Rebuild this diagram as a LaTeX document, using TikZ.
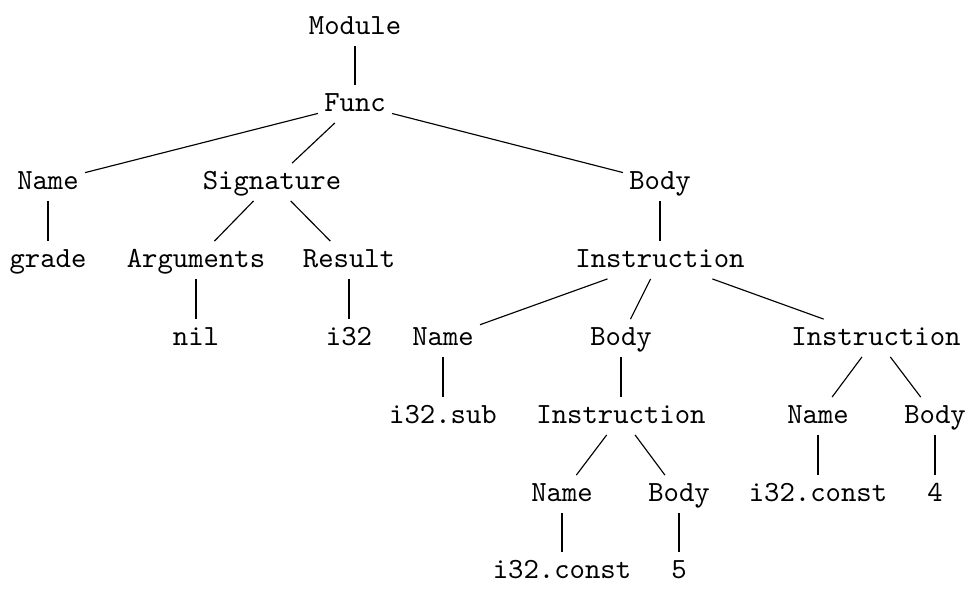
\documentclass[tikz,border=0pt]{standalone}
\begin{document}
\begin{tikzpicture}[x=0.35pt,y=-0.35pt,
  t/.style={font=\ttfamily\fontsize{10.25}{12}\selectfont, inner sep=2pt, text height=1.6ex, text depth=.45ex},
  e/.style={draw=black, line width=0.4pt}]
\useasboundingbox (0,0) rectangle (966,595);
\node[t] (mod) at (355,27) {Module};
\node[t] (func) at (355,104) {Func};
\node[t] (name1) at (48,182) {Name};
\node[t] (sig) at (272,182) {Signature};
\node[t] (body1) at (660,182) {Body};
\node[t] (grade) at (48,260) {grade};
\node[t] (args) at (196,260) {Arguments};
\node[t] (res) at (349,260) {Result};
\node[t] (ins1) at (660,260) {Instruction};
\node[t] (nil) at (196,338) {nil};
\node[t] (i32) at (349,338) {i32};
\node[t] (name2) at (443,338) {Name};
\node[t] (body2) at (621,338) {Body};
\node[t] (ins3) at (876,338) {Instruction};
\node[t] (sub) at (443,416) {i32.sub};
\node[t] (ins2) at (621,416) {Instruction};
\node[t] (name4) at (818,416) {Name};
\node[t] (body4) at (935,416) {Body};
\node[t] (name3) at (562,494) {Name};
\node[t] (body3) at (679,494) {Body};
\node[t] (c4) at (818,494) {i32.const};
\node[t] (four) at (935,494) {4};
\node[t] (c5) at (562,571) {i32.const};
\node[t] (five) at (679,571) {5};
\path[e] (mod) -- (func);
\path[e] (func) -- (name1);
\path[e] (func) -- (sig);
\path[e] (func) -- (body1);
\path[e] (name1) -- (grade);
\path[e] (sig) -- (args);
\path[e] (sig) -- (res);
\path[e] (args) -- (nil);
\path[e] (res) -- (i32);
\path[e] (body1) -- (ins1);
\path[e] (ins1) -- (name2);
\path[e] (ins1) -- (body2);
\path[e] (ins1) -- (ins3);
\path[e] (name2) -- (sub);
\path[e] (body2) -- (ins2);
\path[e] (ins2) -- (name3);
\path[e] (ins2) -- (body3);
\path[e] (name3) -- (c5);
\path[e] (body3) -- (five);
\path[e] (ins3) -- (name4);
\path[e] (ins3) -- (body4);
\path[e] (name4) -- (c4);
\path[e] (body4) -- (four);
\end{tikzpicture}
\end{document}
